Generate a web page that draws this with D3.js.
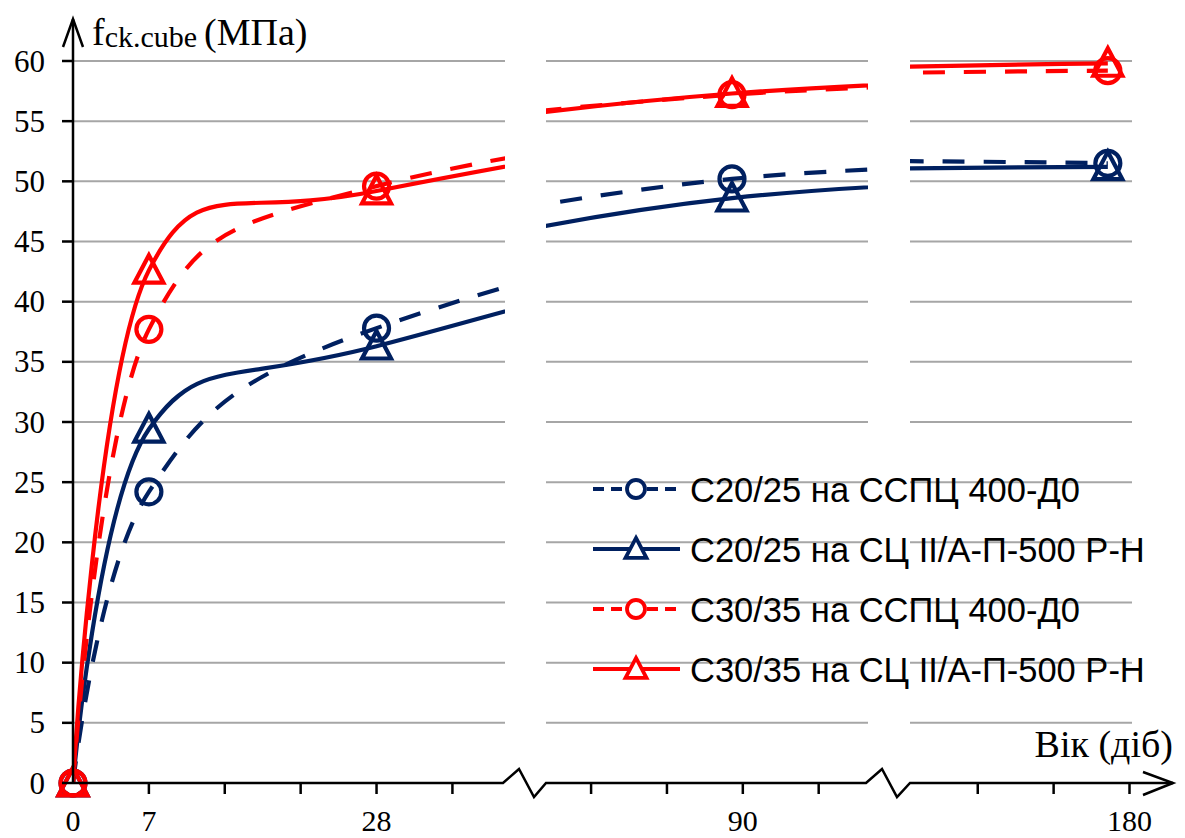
<!DOCTYPE html>
<html>
<head>
<meta charset="utf-8">
<script src="https://cdn.jsdelivr.net/npm/d3@7/dist/d3.min.js"></script>
<style>
body { margin: 0; background: #fff; }
</style>
</head>
<body>
<div id="chart"></div>
<script>
// age of concrete, days
var days = [0, 7, 28, 90, 180];
// f_ck.cube, MPa
var c20Sspc = [0, 24.2, 37.8, 50.2, 51.5];
var c20Sc = [0, 29.4, 36.3, 48.6, 51.2];
var c30Sspc = [0, 37.7, 49.6, 57.2, 59.2];
var c30Sc = [0, 42.6, 49.2, 57.3, 59.8];
var seriesNames = ["С20/25 на ССПЦ 400-Д0", "С20/25 на СЦ ІІ/А-П-500 Р-Н",
                   "С30/35 на ССПЦ 400-Д0", "С30/35 на СЦ ІІ/А-П-500 Р-Н"];
var yTicks = [0, 5, 10, 15, 20, 25, 30, 35, 40, 45, 50, 55, 60];
var xTickDays = [7, 14, 21, 28, 35, 77, 84, 91, 98, 168, 175, 182];
var xLabelDays = [0, 7, 28, 91, 182];
var xLabels = ["0", "7", "28", "90", "180"];
// visible day windows of the broken axis
var segDomains = [[0, 39.85], [72.84, 102.55], [161.75, 182.23]];

var W = 1185, H = 838;
var navy = "#002060", red = "#ff0000";
var serif = "'Liberation Serif','Times New Roman',serif";
var sans = "'Liberation Sans',Arial,sans-serif";

var svg = d3.select("#chart").append("svg")
    .attr("width", W).attr("height", H);

var y = d3.scaleLinear().domain([0, 60]).range([783, 61]);
var segRanges = [[73, 505], [546, 868], [910, 1132]];
var segs = segDomains.map(function(d, i) {
    return d3.scaleLinear().domain(d).range(segRanges[i]);
});
function segOf(day) {
    for (var i = 0; i < segs.length; i++) {
        var d = segs[i].domain();
        if (day >= d[0] && day <= d[1]) return segs[i];
    }
    return segs[0];
}

// gridlines
segs.forEach(function(s) {
    svg.append("g").selectAll("line")
        .data(yTicks.filter(function(v) { return v > 0; }))
        .enter().append("line")
        .attr("x1", s.range()[0]).attr("x2", s.range()[1])
        .attr("y1", function(d) { return y(d); })
        .attr("y2", function(d) { return y(d); })
        .style("stroke", "#a6a6a6").style("stroke-width", 2);
});

// clip paths per window
var defs = svg.append("defs");
segs.forEach(function(s, i) {
    defs.append("clipPath").attr("id", "seg" + i)
        .append("rect")
        .attr("x", s.range()[0]).attr("y", 0)
        .attr("width", s.range()[1] - s.range()[0]).attr("height", 790);
});

var series = [
    {vals: c20Sspc, color: navy, dash: "22,19", marker: "circle"},
    {vals: c20Sc, color: navy, dash: null, marker: "triangle"},
    {vals: c30Sspc, color: red, dash: "22,19", marker: "circle"},
    {vals: c30Sc, color: red, dash: null, marker: "triangle"}
];

function markerPath(type, r) {
    if (type == "triangle")
        return "M0," + (-r * 1.05) + "L" + r + "," + (r * 0.85) + "L" + (-r) + "," + (r * 0.85) + "Z";
    return d3.arc()({innerRadius: 0, outerRadius: r, startAngle: 0, endAngle: 2 * Math.PI});
}

// curves (smoothed like Excel), cut into the three windows
series.forEach(function(sr) {
    var pts = days.map(function(d, i) { return [d, sr.vals[i]]; });
    segs.forEach(function(s, i) {
        var line = d3.line()
            .x(function(d) { return s(d[0]); })
            .y(function(d) { return y(d[1]); })
            .curve(d3.curveCatmullRom.alpha(0));
        svg.append("path")
            .attr("d", line(pts))
            .attr("clip-path", "url(#seg" + i + ")")
            .style("fill", "none")
            .style("stroke", sr.color)
            .style("stroke-width", 4.2)
            .style("stroke-dasharray", sr.dash);
    });
});

// markers
series.forEach(function(sr) {
    svg.append("g").selectAll("path")
        .data(days.map(function(d, i) { return [d, sr.vals[i]]; }))
        .enter().append("path")
        .attr("transform", function(d) {
            return "translate(" + segOf(d[0])(d[0]) + "," + y(d[1]) + ")";
        })
        .attr("d", markerPath(sr.marker, sr.marker == "circle" ? 12.5 : 14.5))
        .style("fill", "none")
        .style("stroke", sr.color)
        .style("stroke-width", 4.2);
});

// y axis
var axis = svg.append("g").style("stroke", "#000").style("stroke-width", 2.5).style("fill", "none");
axis.append("line").attr("x1", 73).attr("x2", 73).attr("y1", 784).attr("y2", 19);
axis.append("path").attr("d", "M63,47L73,19L83,47");
axis.selectAll(".ytick").data(yTicks).enter().append("line")
    .attr("x1", 62).attr("x2", 73)
    .attr("y1", function(d) { return y(d); }).attr("y2", function(d) { return y(d); });

svg.append("g").selectAll("text").data(yTicks).enter().append("text")
    .attr("x", 45).attr("y", function(d) { return y(d) + 10.5; })
    .attr("text-anchor", "end")
    .style("font-family", serif).style("font-size", "31px")
    .text(function(d) { return d; });

// x axis with breaks
var y0 = y(0);
var xd = "M73," + y0;
segs.forEach(function(s, i) {
    var r = s.range();
    if (i > 0) {
        var pr = segs[i - 1].range()[1];
        xd += "L" + (pr + 14) + "," + (y0 - 14) + "L" + (pr + 29) + "," + (y0 + 14) + "L" + r[0] + "," + y0;
    }
    xd += "L" + (i == segs.length - 1 ? 1173 : r[1] - 2) + "," + y0;
});
axis.append("path").attr("d", xd).style("stroke-linejoin", "miter");
axis.append("path").attr("d", "M1143,772L1173,783L1143,795");
axis.selectAll(".xtick").data(xTickDays).enter().append("line")
    .attr("x1", function(d) { return segOf(d)(d); })
    .attr("x2", function(d) { return segOf(d)(d); })
    .attr("y1", y0).attr("y2", y0 + 11);

svg.append("g").selectAll("text").data(xLabelDays).enter().append("text")
    .attr("x", function(d) { return segOf(d)(d); })
    .attr("y", 831)
    .attr("text-anchor", "middle")
    .style("font-family", serif).style("font-size", "30px")
    .text(function(d, i) { return xLabels[i]; });

// axis titles
var yt = svg.append("text").attr("x", 92).attr("y", 45)
    .style("font-family", serif).style("font-size", "38px");
yt.append("tspan").text("f");
yt.append("tspan").attr("dy", 2).style("font-size", "30px").text("ck.cube");
yt.append("tspan").attr("dy", -2).attr("dx", 7).text("(МПа)");

svg.append("text").attr("x", 1173).attr("y", 757)
    .attr("text-anchor", "end")
    .style("font-family", serif).style("font-size", "38px")
    .text("Вік (діб)");

// legend
var legY = [489, 549, 609, 669];
var leg = svg.append("g").selectAll("g").data(series).enter().append("g")
    .attr("transform", function(d, i) { return "translate(0," + legY[i] + ")"; });
leg.append("line").attr("x1", 593).attr("x2", 680)
    .style("stroke", function(d) { return d.color; })
    .style("stroke-width", 4.2)
    .style("stroke-dasharray", function(d) { return d.dash ? "11,7" : null; });
leg.append("path")
    .attr("transform", "translate(636,0)")
    .attr("d", function(d) { return markerPath(d.marker, d.marker == "circle" ? 9 : 10.5); })
    .style("fill", "#fff")
    .style("stroke", function(d) { return d.color; })
    .style("stroke-width", 3.8);
leg.append("text").attr("x", 690).attr("y", 12.5)
    .style("font-family", sans).style("font-size", "34.5px")
    .text(function(d, i) { return seriesNames[i]; });
</script>
</body>
</html>
